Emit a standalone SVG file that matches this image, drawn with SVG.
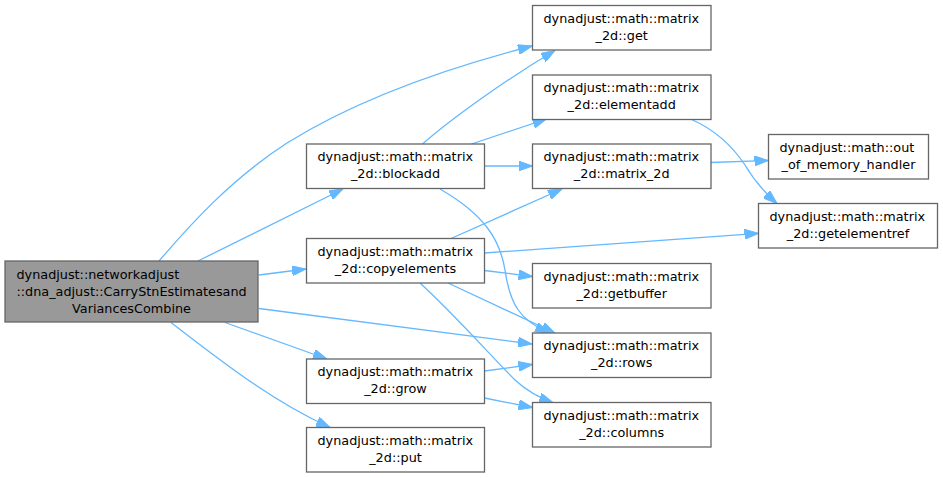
<svg xmlns="http://www.w3.org/2000/svg" width="943" height="478" viewBox="0 0 943 478">
<style>
.n rect{fill:#ffffff;stroke:#666666;stroke-width:1.3}
.n.main rect{fill:#999999}
.n text{font-family:"DejaVu Sans",sans-serif;font-size:12.8px;fill:#000000}
.s{text-anchor:start}
.m{text-anchor:middle}
#edges path{fill:none;stroke:#63b8ff;stroke-width:1.3;marker-end:url(#ah)}
</style>
<defs>
<marker id="ah" markerUnits="userSpaceOnUse" markerWidth="14" markerHeight="10" refX="14" refY="5" orient="auto">
<path d="M0,0 L14,5 L0,10 z" fill="#63b8ff" stroke="#63b8ff" stroke-width="1"/>
</marker>
</defs>
<rect width="943" height="478" fill="#ffffff"/>
<g id="edges">
<path d="M159,261 C190,225 230,180 287,143 C340,110 420,75 532,46"/>
<path d="M198,261 L343,189"/>
<path d="M259,275 L306,269"/>
<path d="M259,308.5 L532,344"/>
<path d="M225,322.5 L327,359"/>
<path d="M171,322.5 C220,360 270,400 330,427.5"/>
<path d="M422.5,144 C450,120 505,80 555,50.5"/>
<path d="M471.5,144 L546.5,119"/>
<path d="M484.5,166 L532.5,166"/>
<path d="M440,189 C485,215 500,240 505,270 C510,305 520,320 549,333"/>
<path d="M451,238.5 L562,189"/>
<path d="M484.5,253 L758.5,233.3"/>
<path d="M484.5,270.5 L532.5,276.5"/>
<path d="M448,283 L555,333"/>
<path d="M420,283 C455,315 490,355 515,380 C528,392 540,398 553,402.5"/>
<path d="M484.5,371 L532.5,364.5"/>
<path d="M484.5,398 L532.5,407.5"/>
<path d="M691.5,119.5 C720,132 735,150 745,165 C755,182 765,193 777,203.5"/>
<path d="M711,162.5 L768.5,160.5"/>
</g>
<g id="main" class="n main">
<rect x="5" y="261" width="253" height="61"/>
<text class="s" x="16.5" y="278.5">dynadjust::networkadjust</text>
<text class="s" x="16.5" y="295.5">::dna_adjust::CarryStnEstimatesand</text>
<text class="m" x="131.5" y="312.5">VariancesCombine</text>
</g>
<g id="blockadd" class="n">
<rect x="306.5" y="144" width="178" height="44.5"/>
<text class="s" x="317.5" y="161.3">dynadjust::math::matrix</text>
<text class="m" x="395.5" y="178.3">_2d::blockadd</text>
</g>
<g id="copyelements" class="n">
<rect x="306.5" y="238.5" width="178" height="44.5"/>
<text class="s" x="317.5" y="255.8">dynadjust::math::matrix</text>
<text class="m" x="395.5" y="272.8">_2d::copyelements</text>
</g>
<g id="grow" class="n">
<rect x="306.5" y="359" width="178" height="44.5"/>
<text class="s" x="317.5" y="376.3">dynadjust::math::matrix</text>
<text class="m" x="395.5" y="393.3">_2d::grow</text>
</g>
<g id="put" class="n">
<rect x="306.5" y="427.5" width="178" height="44.5"/>
<text class="s" x="317.5" y="444.8">dynadjust::math::matrix</text>
<text class="m" x="395.5" y="461.8">_2d::put</text>
</g>
<g id="get" class="n">
<rect x="532.5" y="5.5" width="178.5" height="44.5"/>
<text class="s" x="543.5" y="22.8">dynadjust::math::matrix</text>
<text class="m" x="621.7" y="39.8">_2d::get</text>
</g>
<g id="elementadd" class="n">
<rect x="532.5" y="75" width="178.5" height="44.5"/>
<text class="s" x="543.5" y="92.3">dynadjust::math::matrix</text>
<text class="m" x="621.7" y="109.3">_2d::elementadd</text>
</g>
<g id="matrix_2d" class="n">
<rect x="532.5" y="144" width="178.5" height="44.5"/>
<text class="s" x="543.5" y="161.3">dynadjust::math::matrix</text>
<text class="m" x="621.7" y="178.3">_2d::matrix_2d</text>
</g>
<g id="getbuffer" class="n">
<rect x="532.5" y="263.5" width="178.5" height="44.5"/>
<text class="s" x="543.5" y="280.8">dynadjust::math::matrix</text>
<text class="m" x="621.7" y="297.8">_2d::getbuffer</text>
</g>
<g id="rows" class="n">
<rect x="532.5" y="333" width="178.5" height="44.5"/>
<text class="s" x="543.5" y="350.3">dynadjust::math::matrix</text>
<text class="m" x="621.7" y="367.3">_2d::rows</text>
</g>
<g id="columns" class="n">
<rect x="532.5" y="402.5" width="178.5" height="44.5"/>
<text class="s" x="543.5" y="419.8">dynadjust::math::matrix</text>
<text class="m" x="621.7" y="436.8">_2d::columns</text>
</g>
<g id="oom" class="n">
<rect x="768.5" y="134.5" width="160" height="44.5"/>
<text class="s" x="779.5" y="151.8">dynadjust::math::out</text>
<text class="m" x="848.5" y="168.8">_of_memory_handler</text>
</g>
<g id="getelementref" class="n">
<rect x="758.5" y="203.5" width="179" height="44.5"/>
<text class="s" x="769.5" y="220.8">dynadjust::math::matrix</text>
<text class="m" x="848" y="237.8">_2d::getelementref</text>
</g>
</svg>
